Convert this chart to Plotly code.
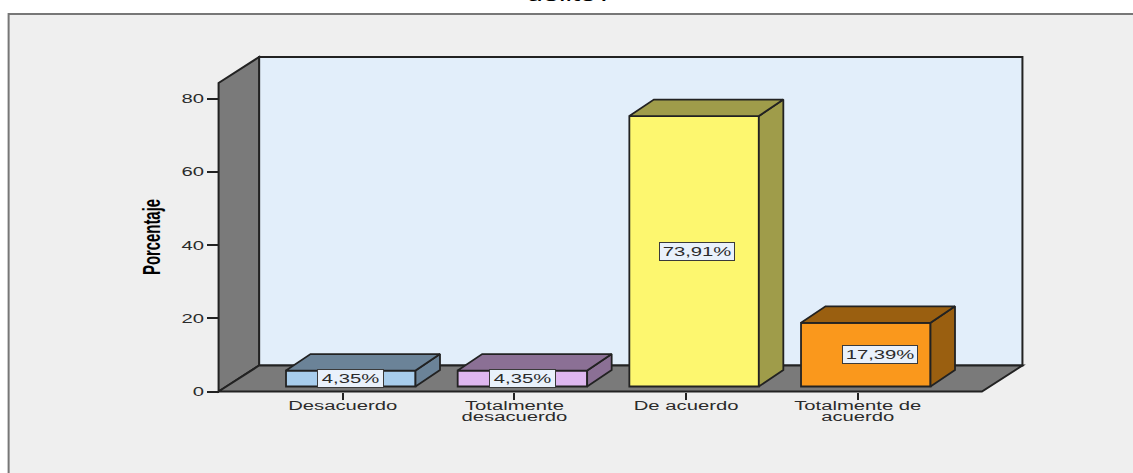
"""3D style SPSS bar chart of Porcentaje per answer, drawn with plotly bars and polygons"""
import plotly.graph_objects as go

categories = ['Desacuerdo', 'Totalmente<br>desacuerdo', 'De acuerdo', 'Totalmente de<br>acuerdo']
values = [4.35, 4.35, 73.91, 17.39]
value_labels = ['4,35%', '4,35%', '73,91%', '17,39%']
y_ticks = [0, 20, 40, 60, 80]

front_colours = ['#a8cdec', '#deb7ef', '#fdf76f', '#fa981c']
shade_colours = ['#6b8398', '#8b7095', '#9f9c4a', '#9a5f10']

# the picture is a stretched SPSS export, this maps chart units to pixels
X0_PX = 342.7
CAT_PX = 171.7
Y0_PX = 391.5
UNIT_PX = 3.66
X_LO, X_HI = -0.75, 3.98
Y_LO, Y_HI = -1.5, 92.5

LEFT = -0.7233
WALL_DX = 40.5 / CAT_PX
WALL_DY = 26 / UNIT_PX
WALL_TOP = 84.3
FLOOR_RIGHT = (982 - X0_PX) / CAT_PX

BAR_WIDTH = 129.5 / CAT_PX
BAR_SHIFT = 8 / CAT_PX
BAR_BASE = 5 / UNIT_PX
BAR_DX = 24.5 / CAT_PX
BAR_DY = 16.5 / UNIT_PX
LABEL_SHIFT = [0, 0, 3 / CAT_PX, 14 / CAT_PX]

EDGE = '#222222'
TEXT = '#2b2b2b'
FONT = 'Liberation Sans'

# stretches the text sideways like the source image, and closes up the two line labels
# the axis title is centred on the side wall, not on the whole plot area, so it moves down a bit
STRETCH_JS = """
document.body.style.margin = '0';
function stretch(el, k) {
    var n = el.getComputedTextLength();
    el.setAttribute('textLength', n * k);
    el.setAttribute('lengthAdjust', 'spacingAndGlyphs');
}
document.querySelectorAll('.xtick text, .ytick text, .annotation-text').forEach(function (t) {
    var lines = t.querySelectorAll('tspan.line');
    if (lines.length) {
        lines.forEach(function (l, i) {
            l.setAttribute('dy', (i * 0.9) + 'em');
            stretch(l, 1.62);
        });
    } else {
        stretch(t, 1.62);
    }
});
document.querySelectorAll('.ytitle').forEach(function (t) {
    stretch(t, 0.62);
    t.setAttribute('transform', 'translate(0,12) ' + t.getAttribute('transform'));
});
"""


def polygon(points: list, fill: str, name: str) -> go.Scatter:
    """Return a closed filled polygon given in chart units"""
    xs = [p[0] for p in points] + [points[0][0]]
    ys = [p[1] for p in points] + [points[0][1]]
    return go.Scatter(x=xs, y=ys, mode='lines', fill='toself', fillcolor=fill,
                      line=dict(color=EDGE, width=1.8), name=name, hoverinfo='skip',
                      showlegend=False, cliponaxis=False)


def path(points: list) -> str:
    """Return an svg path string for a shape given in chart units"""
    return 'M' + ' L'.join(f'{p[0]},{p[1]}' for p in points) + ' Z'


def wall_shapes() -> list:
    """Frame, back wall, side wall and floor, all below the bars"""
    right = LEFT + WALL_DX + (FLOOR_RIGHT - LEFT)
    top_back = WALL_TOP + WALL_DY
    back = [(LEFT + WALL_DX, WALL_DY), (LEFT + WALL_DX, top_back), (right, top_back), (right, WALL_DY)]
    side = [(LEFT, 0), (LEFT, WALL_TOP), (LEFT + WALL_DX, top_back), (LEFT + WALL_DX, WALL_DY)]
    floor = [(LEFT, 0), (LEFT + WALL_DX, WALL_DY), (right, WALL_DY), (FLOOR_RIGHT, 0)]

    plot_w = (X_HI - X_LO) * CAT_PX
    plot_h = (Y_HI - Y_LO) * UNIT_PX
    x_start = X0_PX + X_LO * CAT_PX
    y_top = Y0_PX - Y_HI * UNIT_PX
    shapes = [dict(type='rect', xref='paper', yref='paper', layer='below',
                   x0=(8.5 - x_start) / plot_w, x1=(1200 - x_start) / plot_w,
                   y0=1 - (520 - y_top) / plot_h, y1=1 - (14 - y_top) / plot_h,
                   fillcolor='#efefef', line=dict(color='#777777', width=2))]
    for pts, fill in ((back, '#e2eefa'), (side, '#7a7a7a'), (floor, '#7a7a7a')):
        shapes.append(dict(type='path', xref='x', yref='y', layer='below', path=path(pts),
                           fillcolor=fill, line=dict(color=EDGE, width=2)))
    return shapes


def draw_chart() -> None:
    """Draw the chart and write it out"""
    fig = go.Figure()

    centres = [i + BAR_SHIFT for i in range(len(values))]
    fig.add_trace(go.Bar(x=centres, y=values, base=BAR_BASE, width=BAR_WIDTH,
                         marker=dict(color=front_colours, line=dict(color=EDGE, width=1.8)),
                         hoverinfo='skip', showlegend=False))

    for i, value in enumerate(values):
        left = centres[i] - BAR_WIDTH / 2
        right = centres[i] + BAR_WIDTH / 2
        bottom = BAR_BASE
        top = BAR_BASE + value
        fig.add_trace(polygon([(right, bottom), (right, top), (right + BAR_DX, top + BAR_DY),
                               (right + BAR_DX, bottom + BAR_DY)], shade_colours[i], 'side'))
        fig.add_trace(polygon([(left, top), (right, top), (right + BAR_DX, top + BAR_DY),
                               (left + BAR_DX, top + BAR_DY)], shade_colours[i], 'top'))

        fig.add_annotation(x=centres[i] + LABEL_SHIFT[i], y=BAR_BASE + value / 2, text=value_labels[i],
                           showarrow=False, font=dict(family=FONT, size=12.5, color=TEXT),
                           width=18 + 9 * len(value_labels[i]), height=15, borderpad=1,
                           bgcolor='#e9f1fb', bordercolor='#3a3a3a', borderwidth=1)

    fig.add_annotation(xref='paper', yref='paper', x=(569.5 - (X0_PX + X_LO * CAT_PX)) / ((X_HI - X_LO) * CAT_PX),
                       y=1 + (Y0_PX - Y_HI * UNIT_PX - 3) / ((Y_HI - Y_LO) * UNIT_PX), yanchor='bottom',
                       yshift=-4, text='delito?', showarrow=False, font=dict(family=FONT, size=18, color='black'))

    fig.update_layout(
        width=1133,
        height=473,
        margin=dict(l=X0_PX + X_LO * CAT_PX, r=1133 - (X0_PX + X_HI * CAT_PX),
                    t=Y0_PX - Y_HI * UNIT_PX, b=473 - (Y0_PX - Y_LO * UNIT_PX), pad=0),
        paper_bgcolor='white',
        plot_bgcolor='rgba(0,0,0,0)',
        showlegend=False,
        shapes=wall_shapes(),
        xaxis=dict(range=[X_LO, X_HI], tickmode='array', tickvals=list(range(len(categories))),
                   ticktext=categories, tickangle=0, ticks='outside', ticklen=7, tickwidth=1.5, tickcolor=EDGE,
                   ticklabelstandoff=-5, showgrid=False, zeroline=False, showline=False, anchor='free',
                   position=(0 - Y_LO) / (Y_HI - Y_LO),
                   tickfont=dict(family=FONT, size=12.5, color=TEXT)),
        yaxis=dict(range=[Y_LO, Y_HI], tickmode='array', tickvals=y_ticks, ticks='outside', ticklen=12,
                   tickwidth=1.5, tickcolor=EDGE, showgrid=False, zeroline=False, showline=False,
                   anchor='free', position=(LEFT - X_LO) / (X_HI - X_LO),
                   tickfont=dict(family=FONT, size=12.5, color=TEXT),
                   title=dict(text='<b>Porcentaje</b>', standoff=21,
                              font=dict(family=FONT, size=24, color='black'))),
    )

    fig.write_html("out.html", post_script=STRETCH_JS, config=dict(displayModeBar=False))


draw_chart()
